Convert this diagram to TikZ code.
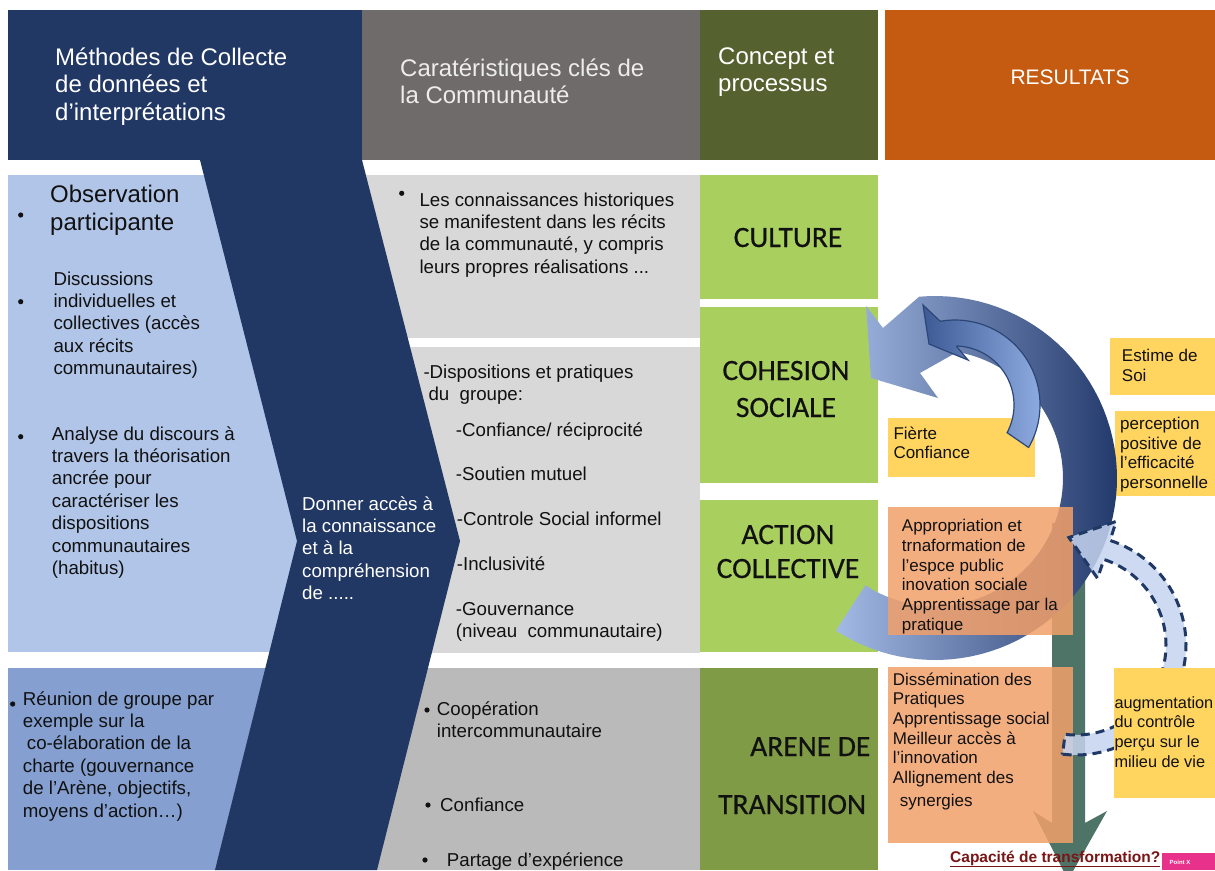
\documentclass[tikz,border=0pt]{standalone}
\usepackage{fontspec}
\setmainfont{Liberation Sans}
\newfontface\calibfont[FakeBold=0.5]{Carlito}
\definecolor{navy}{HTML}{213764}
\definecolor{hgray}{HTML}{6F6B6A}
\definecolor{holive}{HTML}{55622F}
\definecolor{horange}{HTML}{C55A11}
\definecolor{lblue}{HTML}{B1C5E8}
\definecolor{mblue}{HTML}{849FD0}
\definecolor{lgray}{HTML}{D8D8D8}
\definecolor{mgray}{HTML}{BABABA}
\definecolor{lgreen}{HTML}{A9CF5F}
\definecolor{dgreen}{HTML}{7F9B45}
\definecolor{yel}{HTML}{FFD45F}
\definecolor{orng}{HTML}{F2A06A}
\definecolor{tealbar}{HTML}{4E7367}
\definecolor{arrlight}{HTML}{A3BAE5}
\definecolor{arrdark}{HTML}{233A6C}
\definecolor{inlight}{HTML}{8DAAE0}
\definecolor{indark}{HTML}{3E5A95}
\definecolor{inline}{HTML}{2C4677}
\definecolor{dashfill}{HTML}{C6D4EF}
\definecolor{dashline}{HTML}{1F3864}
\definecolor{capred}{HTML}{7A1515}
\definecolor{badge}{HTML}{E8318A}
\definecolor{txt}{HTML}{111111}
\tikzset{
  hd/.style={anchor=base west, align=left, inner sep=0pt, text=white, font=\fontsize{24}{27.5}\selectfont},
  bd/.style={anchor=base west, align=left, inner sep=0pt, text=txt, font=\fontsize{18.7}{22.4}\selectfont},
  sm/.style={anchor=base west, align=left, inner sep=0pt, text=txt, font=\fontsize{17}{19.7}\selectfont},
  cp/.style={anchor=base, inner sep=0pt, text=txt, font=\calibfont\fontsize{29.5}{36}\selectfont},
  cpw/.style={anchor=base west, inner sep=0pt, text=txt, font=\calibfont\fontsize{29.5}{36}\selectfont},
  bullet/.style={fill=txt},
  dashedge/.style={draw=dashline, line width=3pt, dash pattern=on 9pt off 6pt},
}
\begin{document}
\begin{tikzpicture}[x=1pt,y=-1pt]
\clip (0,0) rectangle (1215,870);
\fill[white] (0,0) rectangle (1215,870);
% headers
\fill[navy] (8,10) rectangle (362,160);
\fill[hgray] (362,10) rectangle (700,160);
\fill[holive] (700,10) rectangle (878,160);
\fill[horange] (885,10) rectangle (1215,160);
% panels
\fill[lblue] (8,175) rectangle (300,652);
\fill[mblue] (8,668) rectangle (300,870);
\fill[lgray] (360,175) rectangle (700,338);
\fill[lgray] (360,347) rectangle (700,653);
\fill[mgray] (360,668) rectangle (700,870);
% chevron
\fill[navy] (200,160) -- (362,160) -- (460,541) -- (377,870) -- (215,870) -- (297,541) -- cycle;
% concept boxes
\fill[lgreen] (700,175) rectangle (878,299);
\fill[lgreen] (700,307) rectangle (878,483);
\fill[lgreen] (700,500) rectangle (878,652);
\fill[dgreen] (700,668) rectangle (878,870);
% yellow boxes (under arrows)
\fill[yel] (888,418) rectangle (1035,477);
\fill[yel] (1110,338) rectangle (1215,395);
\fill[yel] (1115,411) rectangle (1215,496);
% vertical teal arrow
\fill[tealbar] (1052,523) -- (1085,523) -- (1085,823) -- (1107,811) -- (1068,880) -- (1033,811) -- (1052,823) -- cycle;
% big outer curved arrow
\shade[left color=arrlight, right color=arrdark]
  (835.9,630.6) -- plot[domain=237:455,samples=70,variable=\t] ({935+182*cos(\t)},{478-182*sin(\t)})
  -- (883,328) -- (866,306) -- (871,378) -- (938,398) -- (920,373)
  -- plot[domain=-80:123,samples=60,variable=\t] ({935+128*cos(-\t)},{478-128*sin(-\t)}) -- cycle;
% inner curved arrow
\shade[left color=indark, right color=inlight, draw=inline, line width=1.2pt]
  (1028.6,447.5) -- plot[domain=-30:100,samples=50,variable=\t] ({955+85*cos(\t)},{405-85*sin(\t)})
  -- (923,305) -- (929,344) -- (968,360) -- (957,347)
  -- plot[domain=-88:28,samples=50,variable=\t] ({955+59*cos(-\t)},{405-59*sin(-\t)}) -- cycle;
% orange boxes
\fill[orng, fill opacity=0.85] (888,507) rectangle (1073,635);
\fill[orng, fill opacity=0.85] (888,667) rectangle (1073,843);
% dashed curved arrow
\path[fill=dashfill, fill opacity=0.85, dashedge]
  (1062.6,754.2) -- plot[domain=-97:72,samples=60,variable=\t] ({1076+110*cos(\t)},{645-110*sin(\t)})
  -- (1116.2,521.4) -- (1068.9,537.5) -- (1097.6,578.4)
  -- plot[domain=-72:97,samples=60,variable=\t] ({1076+90*cos(-\t)},{645-90*sin(-\t)}) -- cycle;
\fill[yel] (1114,668) rectangle (1215,798);
% header texts (anchor = baseline of last line)
\node[hd] (h1) at (55,120) {Méthodes de Collecte\\de données et\\d’interprétations};
\node[hd, text=white!93!black] (h2) at (400,103.5) {Caratéristiques clés de\\la Communauté};
\node[hd] (h3) at (718,91.5) {Concept et\\processus};
\node[anchor=base, inner sep=0pt, text=white, font=\fontsize{21}{25}\selectfont] (h4) at (1070,84) {RESULTATS};
% column 1
\fill[bullet] (20.7,215) circle (2.6pt);
\fill[bullet] (20.7,301.7) circle (2.6pt);
\fill[bullet] (20.7,436.7) circle (2.6pt);
\fill[bullet] (12.7,704) circle (2.6pt);
\node[bd, font=\fontsize{24}{27.5}\selectfont] (obs) at (50,230.2) {Observation\\participante};
\node[bd] (disc) at (53.3,374.6) {Discussions\\individuelles et\\collectives (accès\\aux récits\\communautaires)};
\node[bd] (anal) at (51.7,574.4) {Analyse du discours à\\travers la théorisation\\ancrée pour\\caractériser les\\dispositions\\communautaires\\(habitus)};
\node[bd] (reun) at (22.7,817) {Réunion de groupe par\\exemple sur la\\\hspace*{4pt}co-élaboration de la\\charte (gouvernance\\de l’Arène, objectifs,\\moyens d’action…)};
\node[bd, text=white] (donner) at (302,599.6) {Donner accès à\\la connaissance\\et à la\\compréhension\\de .....};
% column 2
\fill[bullet] (401.7,193.3) circle (2.6pt);
\fill[bullet] (427,710) circle (2.6pt);
\fill[bullet] (428,805) circle (2.6pt);
\fill[bullet] (425,860) circle (2.6pt);
\node[bd] (hist) at (419.3,273.2) {Les connaissances historiques\\se manifestent dans les récits\\de la communauté, y compris\\leurs propres réalisations ...};
\node[bd] (disp) at (423.3,400.7) {-Dispositions et pratiques\\\hspace*{5pt}du\ \ groupe:};
\node[bd] (conf) at (455.7,436) {-Confiance/ réciprocité};
\node[bd] (sout) at (455.7,480.7) {-Soutien mutuel};
\node[bd] (ctrl) at (456.7,525.7) {-Controle Social informel};
\node[bd] (incl) at (456.7,570) {-Inclusivité};
\node[bd] (gouv) at (455.7,637.4) {-Gouvernance\\(niveau\ \ communautaire)};
\node[bd] (coop) at (436.7,737.9) {Coopération\\intercommunautaire};
\node[bd] (conf2) at (440,811) {Confiance};
\node[bd] (part) at (446.7,866) {Partage d’expérience};
% column 3
\node[cp] (cult) at (788,247) {CULTURE};
\node[cp] (coh) at (786,380) {COHESION};
\node[cp] (soc) at (786,417) {SOCIALE};
\node[cp] (act) at (788,544) {ACTION};
\node[cp] (coll) at (788,578) {COLLECTIVE};
\node[cpw] (are) at (750,756) {ARENE DE};
\node[cpw] (tra) at (718,814) {TRANSITION};
% column 4
\node[sm] (est) at (1121.7,381.4) {Estime de\\Soi};
\node[sm] (perc) at (1120,488.4) {perception\\positive de\\l'efficacité\\personnelle};
\node[sm] (fier) at (893.3,458.7) {Fièrte\\Confiance};
\node[sm] (appr) at (901.7,630.2) {Appropriation et\\trnaformation de\\l’espce public\\inovation sociale\\Apprentissage par la\\pratique};
\node[sm] (diss) at (892.7,806.2) {Dissémination des\\Pratiques\\Apprentissage social\\Meilleur accès à\\l’innovation\\Allignement des\\[3pt]\hspace*{7pt}synergies};
\node[sm, font=\fontsize{16.3}{19.7}\selectfont] (augm) at (1114.3,767.1) {augmentation\\du contrôle\\perçu sur le\\milieu de vie};
\node[anchor=base west, inner sep=0pt, text=capred, font=\bfseries\fontsize{15.5}{18}\selectfont] (cap) at (950,862) {\underline{Capacité de transformation?}};
\fill[badge] (1162,853) rectangle (1215,870);
\node[inner sep=0pt, text=white, font=\bfseries\fontsize{6}{7}\selectfont] (bdg) at (1180,862) {Point X};
\end{tikzpicture}
\end{document}
